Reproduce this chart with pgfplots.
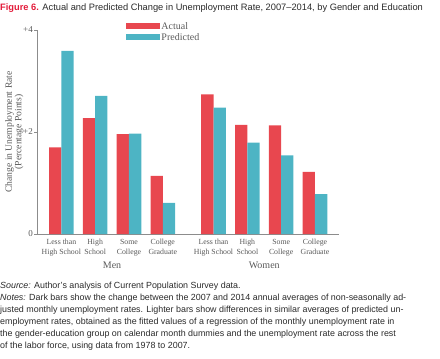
\documentclass[border=0pt]{standalone}
\usepackage{pgfplots}
\pgfplotsset{compat=1.18}
\usepackage{fontspec}
\setmainfont{Liberation Serif}
\setsansfont{Liberation Sans}
\definecolor{barred}{HTML}{E8474F}
\definecolor{barteal}{HTML}{4DB4C4}
\definecolor{figred}{HTML}{E31B3A}
\definecolor{labgray}{HTML}{5A5A5A}
\definecolor{axgray}{HTML}{8C8C8C}
\definecolor{txt}{HTML}{2A2A2A}
\begin{document}
\begin{tikzpicture}
\useasboundingbox (0,0) rectangle (440pt,-359pt);
\node[anchor=base west, inner sep=0pt, font=\sffamily\fontsize{9.3}{11}\selectfont] at (0,-10pt)
  {\textcolor{figred}{\bfseries Figure 6.} \textcolor{txt}{Actual and Predicted Change in Unemployment Rate, 2007--2014, by Gender and Education}};
\begin{axis}[
  at={(37pt,-234pt)}, anchor=south west,
  scale only axis, width=302pt, height=204pt,
  xmin=-0.72, xmax=8.21, ymin=0, ymax=4,
  ybar=0pt, bar width=12.3pt,
  axis x line=bottom, axis y line=left,
  axis line style={draw=axgray, line width=0.6pt, -},
  xtick={0,1,2,3,4.5,5.5,6.5,7.5},
  xticklabels={Less than\\High School, High\\School, Some\\College, College\\Graduate, Less than\\High School, High\\School, Some\\College, College\\Graduate},
  xticklabel style={align=center, font=\fontsize{7.8}{10}\selectfont, text=labgray, inner sep=2.5pt},
  xtick style={draw=none},
  ytick={0,2,4}, yticklabels={0,+2,+4},
  yticklabel style={font=\fontsize{9}{9}\selectfont, text=labgray, inner sep=1.5pt},
  ytick style={draw=axgray, line width=0.5pt},
  tick align=outside, major tick length=2.5pt,
  /pgf/number format/assume math mode=true,
  ylabel={Change in Unemployment Rate\\(Percentage Points)},
  ylabel style={at={(axis description cs:-0.075,0.5)}, anchor=center, align=center, font=\fontsize{9.6}{9.6}\selectfont, text=labgray},
  clip=false,
  legend style={at={(axis description cs:0.295,1.045)}, anchor=north west, draw=none, fill=none,
     font=\fontsize{10}{10}\selectfont, text=labgray, row sep=0pt, inner sep=0pt,
     nodes={inner sep=1.2pt}},
  legend cell align=left,
  legend image code/.code={\fill (0pt,-3pt) rectangle (34pt,3pt);},
]
\addplot[fill=barred, draw=none] coordinates {(0,1.70) (1,2.27) (2,1.96) (3,1.14) (4.5,2.74) (5.5,2.14) (6.5,2.13) (7.5,1.22)};
\addplot[fill=barteal, draw=none] coordinates {(0,3.59) (1,2.71) (2,1.97) (3,0.61) (4.5,2.48) (5.5,1.79) (6.5,1.54) (7.5,0.78)};
\legend{Actual, Predicted}
\node[font=\fontsize{10}{10}\selectfont, text=labgray] at (axis cs:1.5,0) [yshift=-31pt] {Men};
\node[font=\fontsize{10}{10}\selectfont, text=labgray] at (axis cs:6,0) [yshift=-31pt] {Women};
\end{axis}
\node[anchor=north west, inner sep=0pt, align=left, text=txt, font=\sffamily\fontsize{8.9}{12}\selectfont] at (0,-282pt)
{\textit{Source:} Author's analysis of Current Population Survey data.\\
\textit{Notes:} Dark bars show the change between the 2007 and 2014 annual averages of non-seasonally ad-\\
justed monthly unemployment rates. Lighter bars show differences in similar averages of predicted un-\\
employment rates, obtained as the fitted values of a regression of the monthly unemployment rate in\\
the gender-education group on calendar month dummies and the unemployment rate across the rest\\
of the labor force, using data from 1978 to 2007.};
\end{tikzpicture}
\end{document}
